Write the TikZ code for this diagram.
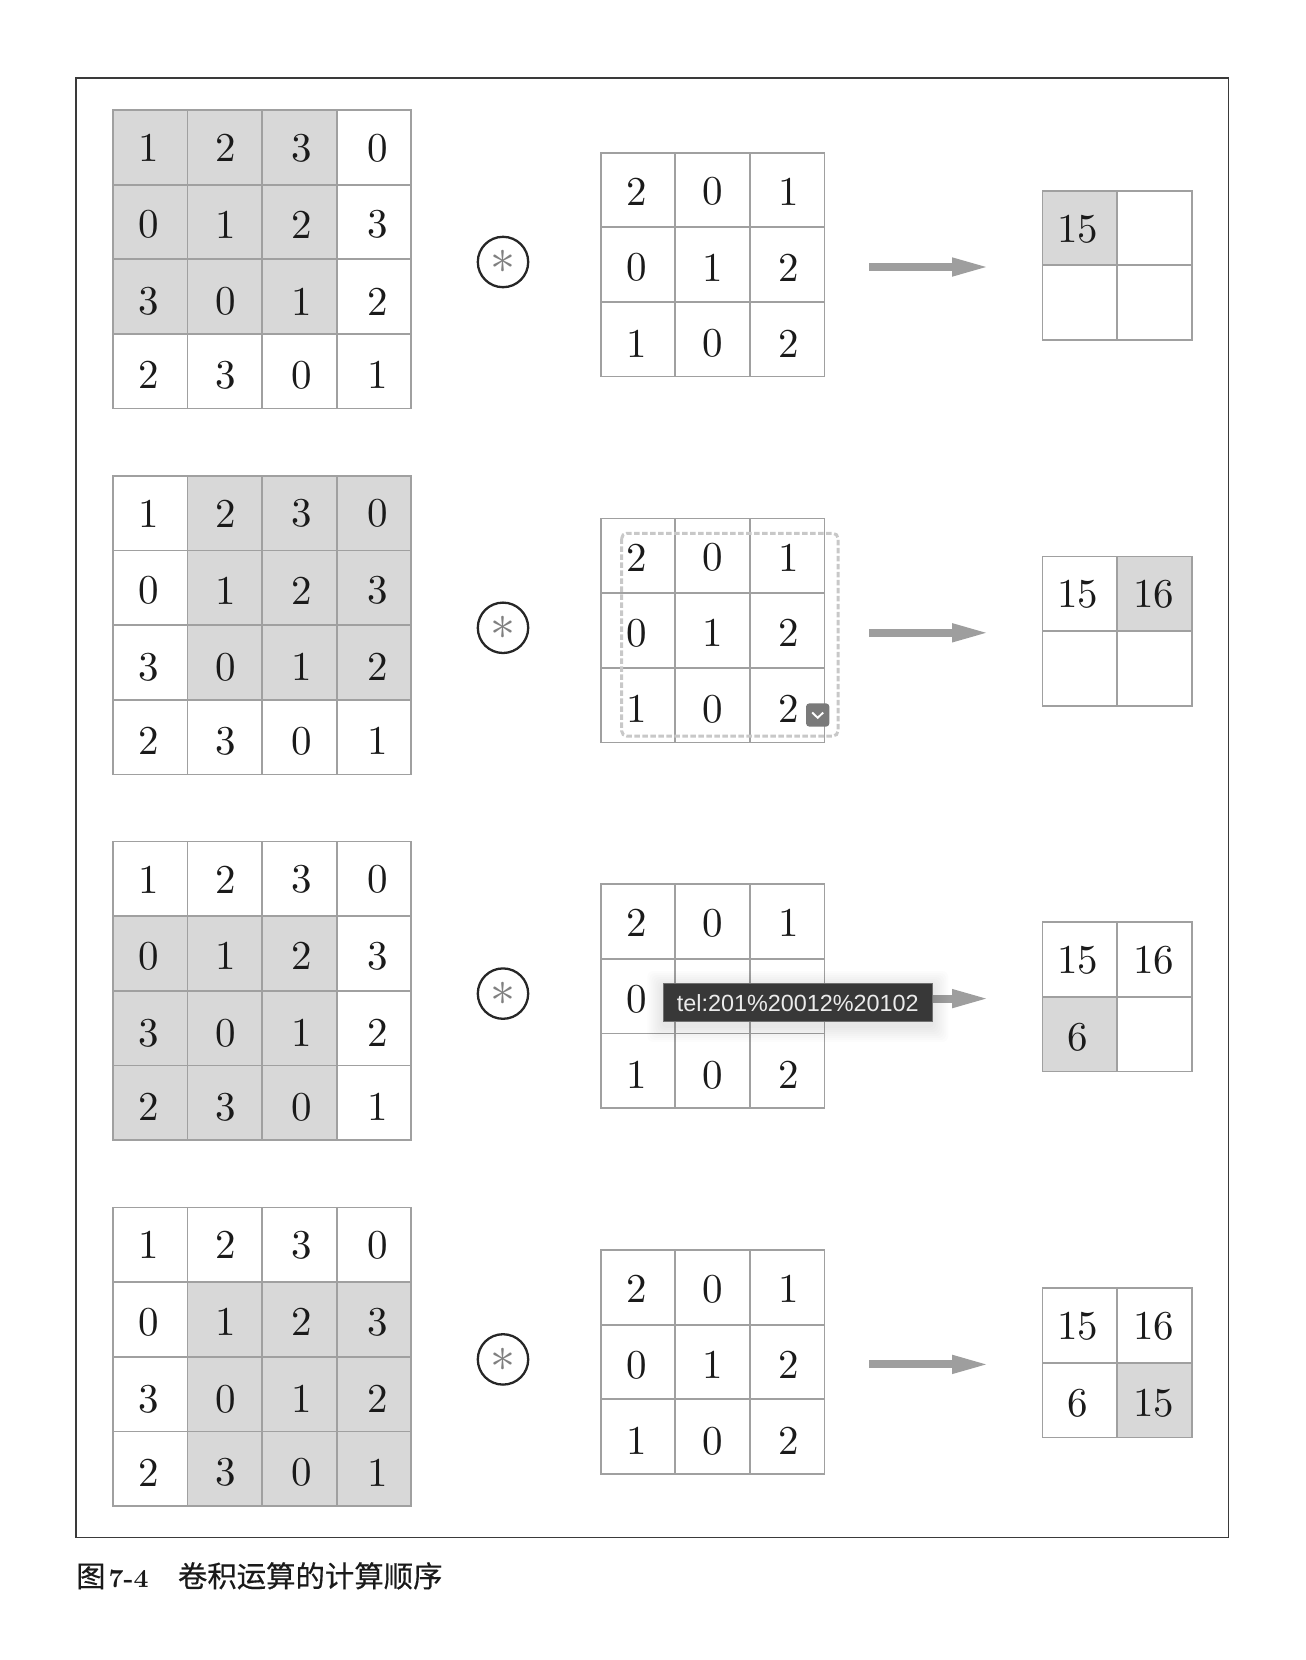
\documentclass[tikz,border=0pt]{standalone}
\usepackage{fontspec}
\usepackage{graphicx}
\usetikzlibrary{arrows.meta,calc}
\newfontfamily\cjkfont[FakeBold=0.4]{Noto Sans CJK SC}
\newfontfamily\tipfont{Liberation Sans}
\definecolor{gridline}{HTML}{A0A0A0}
\definecolor{shade}{HTML}{D8D8D8}
\definecolor{ink}{HTML}{1A1A1A}
\definecolor{framecol}{HTML}{3A3A3A}
\definecolor{arrowcol}{HTML}{9E9E9E}
\definecolor{starcol}{HTML}{808080}
\definecolor{dashcol}{HTML}{C8C8C8}
\definecolor{btncol}{HTML}{7A7A7A}
\definecolor{tipcol}{HTML}{383838}
\tikzset{
  cellbox/.style={draw=gridline,line width=1.7pt,minimum size=74.65pt,inner sep=0pt,fill=white},
  hicell/.style={cellbox,fill=shade},
  digit/.style={inner sep=0pt,text=ink},
  convop/.style={circle,draw=black!85,line width=2.3pt,minimum size=50.4pt,inner sep=0pt,text=starcol},
  flow/.style={draw=arrowcol,line width=8pt,-{Triangle[length=34pt,width=19.5pt,line width=0pt,fill=arrowcol]}},
  tipbox/.style={draw=gridline!70!black,line width=1pt,fill=tipcol,minimum width=269pt,minimum height=38.5pt,inner sep=0pt,
    text=white!92!black,font=\tipfont\fontsize{23.4}{28}\selectfont},
  tipglow/.style={fill=black,fill opacity=0.012,draw=none,rounded corners=6pt},
  selbox/.style={draw=dashcol,line width=3pt,dash pattern=on 5.5pt off 2.5pt,rounded corners=5pt},
  btn/.style={fill=btncol,rounded corners=3.5pt,minimum size=23.4pt,inner sep=0pt},
  caption/.style={inner sep=0pt,text=ink,anchor=base west}
}
% \cellat{name}{style}{x}{y}{text}{digit x}{digit y}: x,y give the top left of the ruled line centres
\newcommand{\cellat}[7]{%
  \node[#2,anchor=north west] (#1) at ($(#3,#4)+(-0.85,-0.85)$) {};
  \node[digit] (#1t) at (#6,#7) {\scalebox{4.1}{\fontsize{10}{12}\selectfont #5}};
}
\begin{document}
\begin{tikzpicture}[x=1pt,y=-1pt]
\useasboundingbox (0,0) rectangle (1306,1660);
\draw[framecol,line width=1.4pt] (75.9,77.9) rectangle (1228.3,1537.7);

\def\xoffs{{35.6,113.2,189.2,264.9}}
\def\yoffs{{37.8,114.6,191.4,265.3}}
\def\kxoffs{{36.2,111.9,188.4}}
\def\kyoffs{{39,114.7,190.7}}
\def\dataA{{{1,2,3,0},{0,1,2,3},{3,0,1,2},{2,3,0,1}}}
\def\dataB{{{2,0,1},{0,1,2},{1,0,2}}}
\foreach \k/\hc/\hr/\fa/\fb/\fc/\fd/\sa/\sb/\sc/\sd in {
   0/0/0/15/{}/{}/{}/hicell/cellbox/cellbox/cellbox,
   1/1/0/15/16/{}/{}/cellbox/hicell/cellbox/cellbox,
   2/0/1/15/16/6/{}/cellbox/cellbox/hicell/cellbox,
   3/1/1/15/16/6/15/cellbox/cellbox/cellbox/hicell}{
  \pgfmathsetmacro{\topy}{\k*365.8}
  % input matrix
  \foreach \r in {0,1,2,3}{
    \foreach \c in {0,1,2,3}{
      \pgfmathtruncatemacro{\val}{\dataA[\r][\c]}
      \pgfmathtruncatemacro{\ishi}{(\c>=\hc && \c<\hc+3 && \r>=\hr && \r<\hr+3) ? 1 : 0}
      \pgfmathsetmacro{\px}{112.7+\c*74.65}
      \pgfmathsetmacro{\py}{110+\topy+\r*74.65}
      \pgfmathsetmacro{\ox}{112.7+\xoffs[\c]}
      \pgfmathsetmacro{\oy}{110+\topy+\yoffs[\r]}
      \ifnum\ishi=1 \def\st{hicell}\else\def\st{cellbox}\fi
      \cellat{a\k\r\c}{\st}{\px}{\py}{\val}{\ox}{\oy}
    }
  }
  % operator
  \pgfmathsetmacro{\py}{262+\topy}
  \node[convop] (op\k) at (503,\py) {\scalebox{5}{$\ast$}};
  % kernel
  \foreach \r in {0,1,2}{
    \foreach \c in {0,1,2}{
      \pgfmathtruncatemacro{\val}{\dataB[\r][\c]}
      \pgfmathsetmacro{\px}{600.7+\c*74.6}
      \pgfmathsetmacro{\py}{152.7+\topy+\r*74.6}
      \pgfmathsetmacro{\ox}{600.7+\kxoffs[\c]}
      \pgfmathsetmacro{\oy}{152.7+\topy+\kyoffs[\r]}
      \cellat{b\k\r\c}{cellbox}{\px}{\py}{\val}{\ox}{\oy}
    }
  }
  % arrow
  \pgfmathsetmacro{\py}{267+\topy}
  \coordinate (s\k) at (869,\py);
  \coordinate (e\k) at (986,\py);
  \draw[flow] (s\k) -- (e\k);
  % result
  \pgfmathsetmacro{\pa}{190.7+\topy}
  \pgfmathsetmacro{\pb}{190.7+74.6+\topy}
  \pgfmathsetmacro{\qa}{190.7+38.1+\topy}
  \pgfmathsetmacro{\qb}{190.7+114.7+\topy}
  \cellat{r\k00}{\sa}{1042.5}{\pa}{\fa}{1077.6}{\qa}
  \cellat{r\k01}{\sb}{1117.1}{\pa}{\fb}{1153.6}{\qa}
  \cellat{r\k10}{\sc}{1042.5}{\pb}{\fc}{1077.6}{\qb}
  \cellat{r\k11}{\sd}{1117.1}{\pb}{\fd}{1153.6}{\qb}
}

% selection overlay on second kernel
\draw[selbox] (621.7,533.3) rectangle (838,736);
\node[btn] (menu) at (817.7,715) {};
\draw[white,line width=1.9pt] ($(menu)+(-5.5,-2.5)$) -- ($(menu)+(0,2.8)$) -- ($(menu)+(5.5,-2.5)$);

% link tooltip with soft shadow
\foreach \s in {16,14,...,2}{
  \fill[tipglow] ($(663.3,987)+(-\s,-\s)$) rectangle ($(932.3,1026)+(\s,\s)$);
}
\node[tipbox] (tip) at (797.8,1002.7) {tel:201\%20012\%20102};

% caption
\node[caption] (cap) at (76,1587) {\fontsize{29.4}{34}\selectfont{\cjkfont 图}\hspace{3pt}\scalebox{2.6}{\fontsize{10}{12}\selectfont\bfseries 7-4}\hspace{29.5pt}{\cjkfont 卷积运算的计算顺序}};
\end{tikzpicture}
\end{document}
